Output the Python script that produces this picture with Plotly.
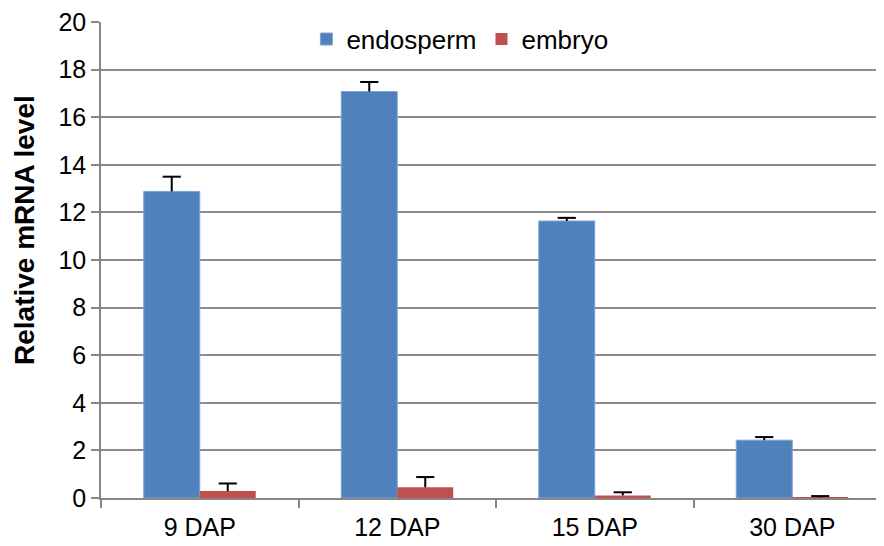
import plotly.graph_objects as go

categories = ["9 DAP", "12 DAP", "15 DAP", "30 DAP"]
endosperm = [12.88, 17.08, 11.64, 2.43]
endosperm_err = [0.62, 0.40, 0.13, 0.13]
embryo = [0.29, 0.45, 0.11, 0.03]
embryo_err = [0.32, 0.43, 0.13, 0.05]

BAR_W = 0.2835  # width of one bar in category units
idx = list(range(len(categories)))

fig = go.Figure()
series = [
    ("endosperm", endosperm, endosperm_err, "#4F81BD", dict(color="#7FA3D3", width=1), -BAR_W),
    ("embryo", embryo, embryo_err, "#C0504D", dict(width=0), 0.0),
]
for name, vals, errs, color, mline, off in series:
    fig.add_trace(go.Bar(
        x=idx, y=vals, name=name, width=BAR_W, offset=off,
        marker=dict(color=color, line=mline),
        error_y=dict(type="data", array=errs, arrayminus=[0]*len(errs), symmetric=False,
                     color="black", thickness=2, width=0),
    ))
for name, vals, errs, color, mline, off in series:
    centers = [i + off + BAR_W / 2 for i in idx]
    tops = [v + e for v, e in zip(vals, errs)]
    fig.add_trace(go.Scatter(
        x=centers, y=tops, mode="markers", showlegend=False, hoverinfo="skip",
        marker=dict(symbol="line-ew", size=13, color="black",
                    line=dict(color="black", width=2)),
    ))

fig.update_layout(
    width=883, height=538,
    margin=dict(l=93, r=0, t=14, b=48),
    paper_bgcolor="white", plot_bgcolor="white",
    barmode="overlay",
    font=dict(family="Liberation Sans, Arial", size=26, color="black"),
    showlegend=True,
    legend=dict(orientation="h", x=0.26, y=0.964, xanchor="left", yanchor="middle",
                font=dict(size=26), bgcolor="rgba(255,255,255,0)",
                itemwidth=30, traceorder="normal"),
    xaxis=dict(
        range=[-0.5, len(categories) - 0.5], automargin=False,
        tickmode="array", tickvals=idx, ticktext=categories,
        showgrid=False, showline=True, linecolor="#868686", linewidth=1.5,
        ticks="", tickfont=dict(size=25), ticklabelstandoff=6, zeroline=False,
        minor=dict(tickmode="array", tickvals=[i - 0.5 for i in idx] + [len(idx) - 0.5],
                   ticks="outside", ticklen=8, tickcolor="#868686", tickwidth=1.5,
                   showgrid=False),
    ),
    yaxis=dict(
        range=[0, 20], dtick=2, automargin=False,
        showgrid=True, gridcolor="#8c8c8c", gridwidth=1.5,
        showline=True, linecolor="#868686", linewidth=1.5,
        ticks="outside", ticklen=8, tickcolor="#868686", tickwidth=1.5,
        tickfont=dict(size=25), zeroline=False, ticklabeloverflow="allow",
    ),
    annotations=[dict(
        text="<b>Relative mRNA level</b>", textangle=-90, showarrow=False,
        xref="paper", yref="paper", x=-0.0975, y=0.563,
        xanchor="center", yanchor="middle", font=dict(size=28),
    )],
)

fig.write_html("out.html")
